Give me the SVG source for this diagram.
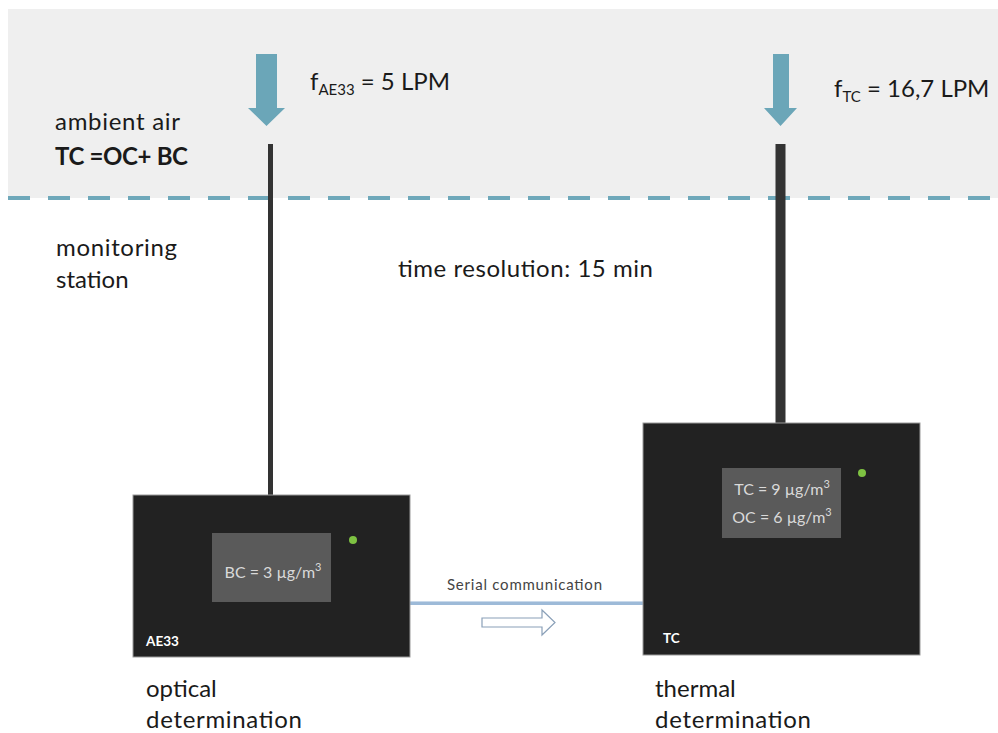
<svg xmlns="http://www.w3.org/2000/svg" width="998" height="733" viewBox="0 0 998 733">
<style>
.t{font-family:Lato,"Open Sans","Liberation Sans",sans-serif;fill:#1a1a1a;font-size:24px}
.b{font-weight:bold}
.d{font-family:Lato,"Open Sans","Liberation Sans",sans-serif;fill:#d9d9d9;font-size:16px}
.lbl{font-family:Lato,"Liberation Sans",sans-serif;fill:#ffffff;font-size:13.5px;font-weight:bold}
.dev{fill:#222222;stroke:#9a9a9a;stroke-width:1}
.disp{fill:#5a5a5a}
.led{fill:#7ec242}
.flow{fill:#6ba6b8}
.tube{stroke:#333333}
</style>
<rect x="0" y="0" width="998" height="733" fill="#ffffff"/>
<rect x="8" y="9" width="990" height="189" fill="#efefef"/>
<line x1="8" y1="198" x2="998" y2="198" stroke="#6fa8ba" stroke-width="4" stroke-dasharray="22 18"/>

<g id="flow-ae33">
<polygon class="flow" points="256,54 277,54 277,108 285,108 266.5,126 248,108 256,108"/>
<text class="t" x="310" y="90">f<tspan font-size="15" dy="5">AE33</tspan><tspan dy="-5"> = 5 LPM</tspan></text>
</g>
<g id="flow-tc">
<polygon class="flow" points="773,54 789,54 789,108 797,108 780.5,126 764,108 773,108"/>
<text class="t" x="834" y="97">f<tspan font-size="15" dy="5">TC</tspan><tspan dy="-5"> = 16,7 LPM</tspan></text>
</g>

<g id="labels">
<text class="t" x="55" y="130" textLength="125">ambient air</text>
<text class="t b" x="55" y="165" textLength="133">TC =OC+ BC</text>
<text class="t" x="56" y="256" textLength="121">monitoring</text>
<text class="t" x="56" y="288">station</text>
<text class="t" x="398" y="277" textLength="255">time resolution: 15 min</text>
<text class="t" x="146" y="697">optical</text>
<text class="t" x="146" y="728" textLength="156">determination</text>
<text class="t" x="655" y="697">thermal</text>
<text class="t" x="655" y="728" textLength="156">determination</text>
</g>

<g id="connectors">
<line class="tube" x1="270.5" y1="144" x2="270.5" y2="495" stroke-width="5"/>
<line class="tube" x1="780.5" y1="144" x2="780.5" y2="423" stroke-width="10"/>
<line x1="410" y1="603" x2="643" y2="603" stroke="#9dbad8" stroke-width="4"/>
<line x1="410" y1="601.5" x2="643" y2="601.5" stroke="#c9d9ea" stroke-width="1"/>
<text x="447" y="590" textLength="155" font-family="Lato,'Liberation Sans',sans-serif" font-size="15" fill="#444444">Serial communication</text>
<polygon points="482,618 542,618 542,610 555,622.5 542,635 542,627 482,627" fill="#ffffff" stroke="#8aa0b8" stroke-width="1.2"/>
</g>

<g id="ae33">
<rect class="dev" x="133" y="495" width="277" height="162"/>
<rect class="disp" x="212" y="533" width="119" height="69"/>
<circle class="led" cx="353" cy="540" r="4"/>
<text class="d" x="273" y="578" text-anchor="middle">BC = 3 µg/m<tspan font-size="11" dy="-7">3</tspan></text>
<text class="lbl" x="146" y="646">AE33</text>
</g>

<g id="tc">
<rect class="dev" x="643" y="423" width="277" height="232"/>
<rect class="disp" x="722" y="468" width="119" height="70"/>
<circle class="led" cx="862" cy="473" r="4"/>
<text class="d" x="782" y="495" text-anchor="middle">TC = 9 µg/m<tspan font-size="11" dy="-7">3</tspan></text>
<text class="d" x="782" y="523" text-anchor="middle">OC = 6 µg/m<tspan font-size="11" dy="-7">3</tspan></text>
<text class="lbl" x="663" y="643">TC</text>
</g>
</svg>
